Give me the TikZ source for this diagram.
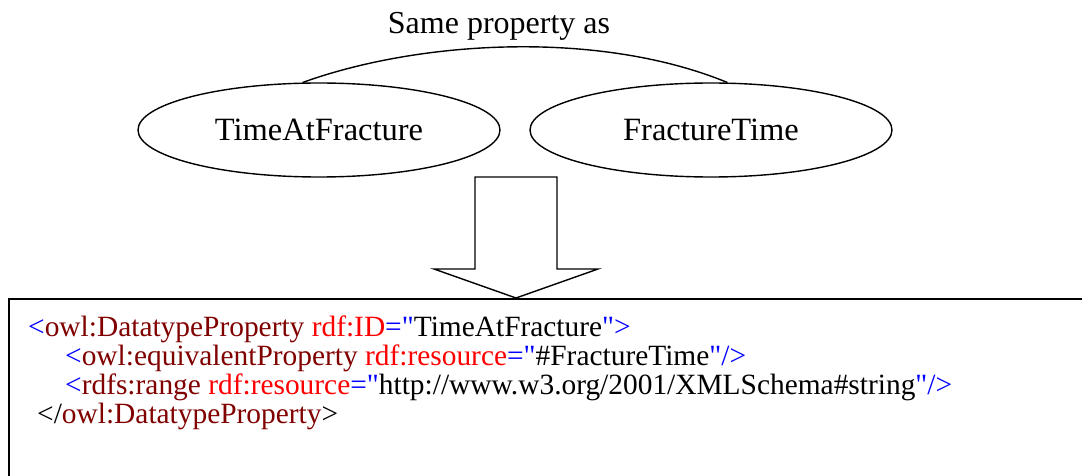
\documentclass[tikz,border=0pt]{standalone}
\usepackage{fontspec}
\setmainfont{Liberation Serif}
\newfontfamily\codefont{Liberation Serif}[Ligatures=TeXOff]
\usetikzlibrary{shapes.geometric}
\definecolor{xmlblue}{HTML}{0000FF}
\definecolor{xmlred}{HTML}{FF0000}
\definecolor{xmlname}{HTML}{800000}
\newcommand{\xb}[1]{\textcolor{xmlblue}{#1}}
\newcommand{\xr}[1]{\textcolor{xmlred}{#1}}
\newcommand{\xn}[1]{\textcolor{xmlname}{#1}}
\begin{document}
\begin{tikzpicture}[x=1pt,y=-1pt,
  prop/.style={ellipse,draw,line width=1.4pt,minimum width=362pt,minimum height=94pt,
    inner sep=0pt,font=\fontsize{32.5}{38}\selectfont},
  label/.style={inner sep=0pt,font=\fontsize{32}{38}\selectfont},
  code/.style={anchor=base west,inner sep=0pt,font=\codefont\fontsize{29.4}{34}\selectfont},
  link/.style={line width=1.4pt},
  blockarrow/.style={draw,line width=1.4pt,line join=miter}]
  \useasboundingbox (0,0) rectangle (1082,476);
  \clip (0,0) rectangle (1082,476);

  % the two equivalent properties
  \node[prop] (L) at (319,130) {TimeAtFracture};
  \node[prop] (R) at (711,130) {FractureTime};

  % relation arc and its caption
  \node[label,anchor=base] (cap) at (499,34) {Same property as};
  \draw[link] (L.109) .. controls (420,40) and (600,30) .. (R.71);

  % block arrow pointing down to the OWL code
  \draw[blockarrow] (475,177) -- (557,177) -- (557,269) -- (598,269)
    -- (516,298) -- (434,269) -- (475,269) -- cycle;

  % OWL code panel
  \draw[line width=2pt] (9,299) rectangle (1100,500);
  \node[code] (c1) at (28,336)
    {\xb{<}\xn{owl:DatatypeProperty} \xr{rdf:ID}\xb{="}TimeAtFracture\xb{">}};
  \node[code] (c2) at (65,365)
    {\xb{<}\xn{owl:equivalentProperty} \xr{rdf:resource}\xb{="}\#FractureTime\xb{"/>}};
  \node[code] (c3) at (65,394)
    {\xb{<}\xn{rdfs:range} \xr{rdf:resource}\xb{="}http://www.w3.org/2001/XMLSchema\#string\xb{"/>}};
  \node[code] (c4) at (37,423)
    {</\xn{owl:DatatypeProperty}>};
\end{tikzpicture}
\end{document}
